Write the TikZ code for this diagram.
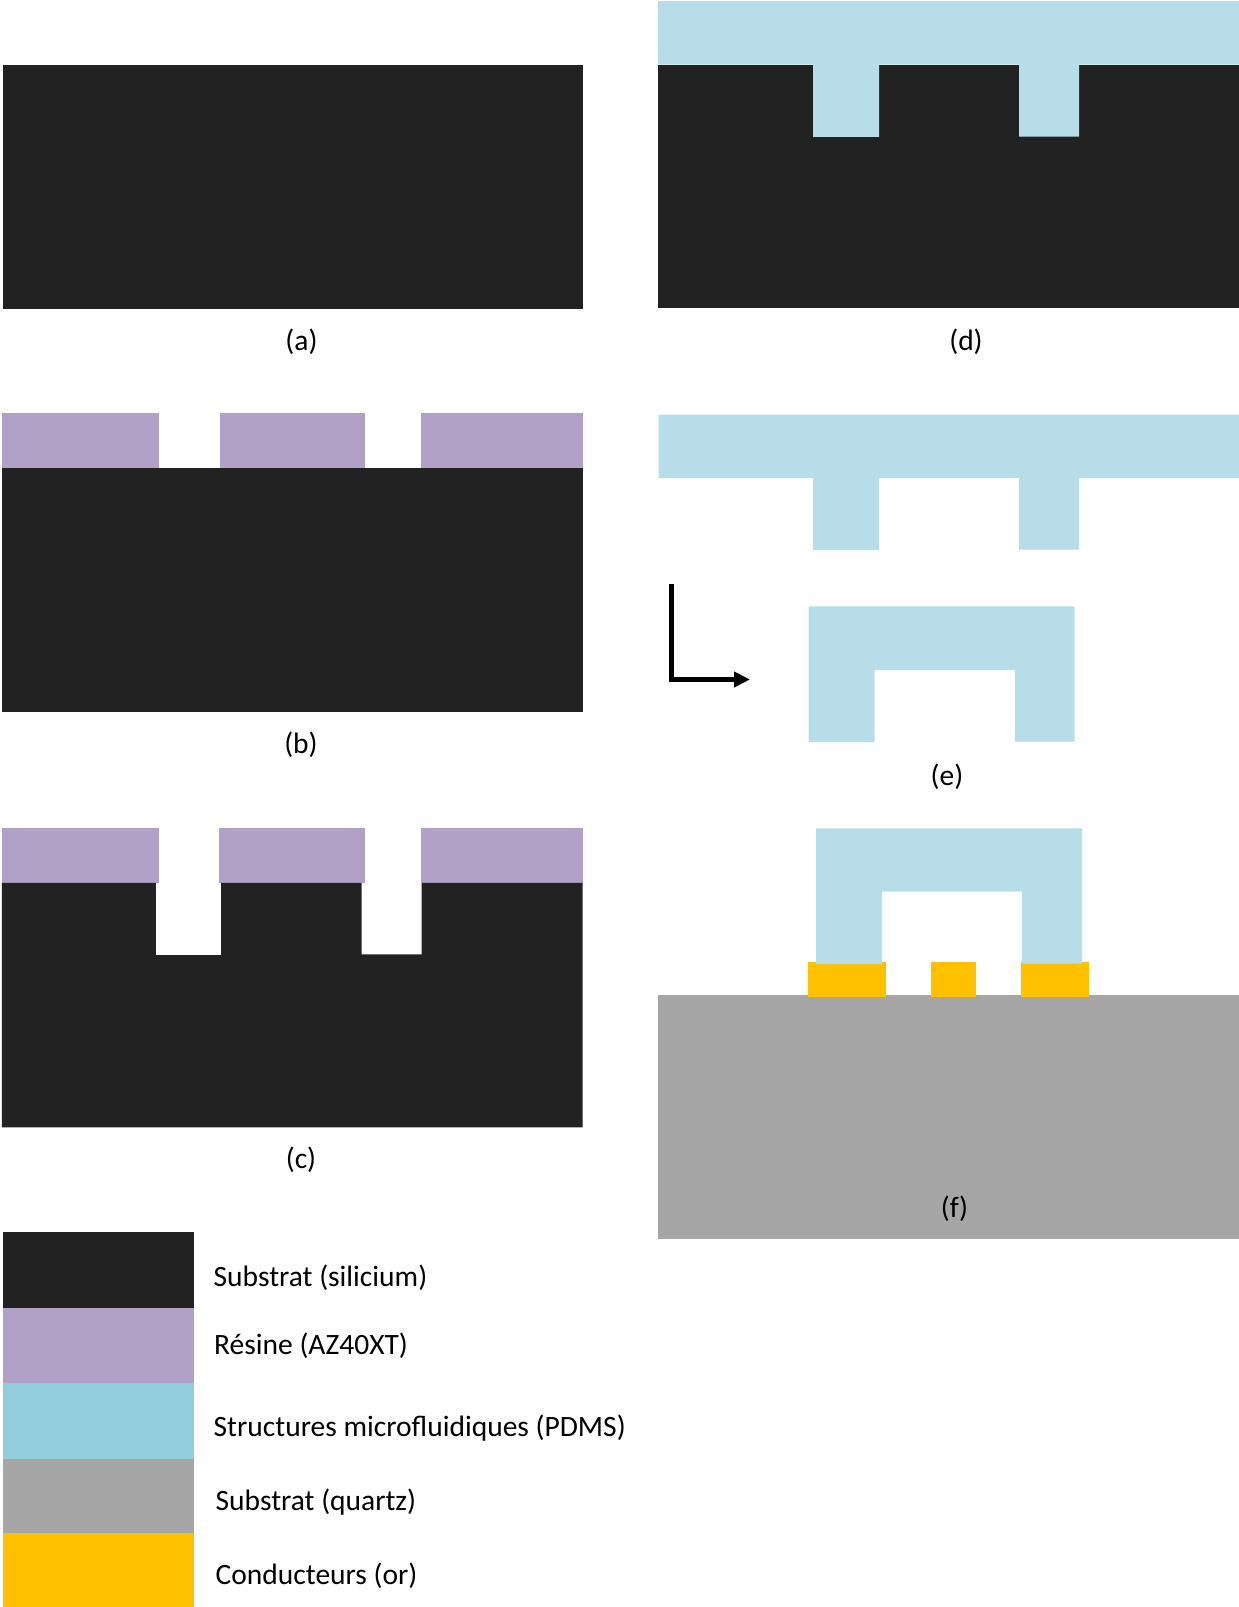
\documentclass[tikz,border=0pt]{standalone}
\usepackage{fontspec}
\setmainfont{Carlito}
\usetikzlibrary{arrows.meta}
\definecolor{si}{HTML}{222222}
\definecolor{res}{HTML}{B2A1C7}
\definecolor{pdms}{HTML}{B7DEE8}
\definecolor{pdmsl}{HTML}{92CDDC}
\definecolor{qz}{HTML}{A6A6A6}
\definecolor{au}{HTML}{FFC000}
\tikzset{
  x=1pt,y=-1pt,
  captionlabel/.style={anchor=base,inner sep=0pt,font=\fontsize{29.5}{33}\selectfont},
  legendlabel/.style={anchor=base west,inner sep=0pt,font=\fontsize{29.5}{33}\selectfont},
  sifill/.style={fill=si},
  resfill/.style={fill=res},
  pdmsfill/.style={fill=pdms},
  qzfill/.style={fill=qz},
  aufill/.style={fill=au},
}
\begin{document}
\begin{tikzpicture}
\useasboundingbox (0,0) rectangle (1239,1607);
% (a)
\fill[sifill] (3,64.8) rectangle (583,308.8);
\node[captionlabel] (la) at (301.5,350.5) {(a)};
% (b)
\fill[resfill] (2,413) rectangle (159,468);
\fill[resfill] (219.5,413) rectangle (365,468);
\fill[resfill] (421,413) rectangle (583,468);
\fill[sifill] (2,468) rectangle (583,712);
\node[captionlabel] (lb) at (301,753) {(b)};
% (c)
\fill[resfill] (1.8,828.3) rectangle (158.6,882.8);
\fill[resfill] (219.3,828.3) rectangle (364.6,882.8);
\fill[resfill] (420.7,828.3) rectangle (582.5,882.8);
\fill[sifill] (1.8,882.8) -- (155.8,882.8) -- (155.8,955) -- (221,955) -- (221,882.8) -- (361.5,882.8) -- (361.5,954.4) -- (421.5,954.4) -- (421.5,882.8) -- (582.5,882.8) -- (582.5,1127.3) -- (1.8,1127.3) -- cycle;
\node[captionlabel] (lc) at (301,1168) {(c)};
% (d)
\fill[sifill] (658,64.5) rectangle (1239,307.8);
\fill[pdmsfill] (658,1) -- (1239,1) -- (1239,64.5) -- (1079,64.5) -- (1079,136.5) -- (1019,136.5) -- (1019,64.5) -- (879,64.5) -- (879,136.8) -- (813,136.8) -- (813,64.5) -- (658,64.5) -- cycle;
\node[captionlabel] (ld) at (966,350.5) {(d)};
% (e)
\fill[pdmsfill] (658.5,414.5) -- (1239,414.5) -- (1239,478) -- (1079,478) -- (1079,549.7) -- (1019,549.7) -- (1019,478) -- (879,478) -- (879,550) -- (813,550) -- (813,478) -- (658.5,478) -- cycle;
\fill[pdmsfill] (808.5,606.3) -- (1074.5,606.3) -- (1074.5,741.7) -- (1015,741.7) -- (1015,670) -- (874.5,670) -- (874.5,742) -- (808.5,742) -- cycle;
\coordinate (arrowstart) at (671.5,583.5);
\coordinate (arrowcorner) at (671.5,679.5);
\coordinate (arrowend) at (750,679.5);
\draw[line width=5pt,-{Triangle[length=16pt,width=15pt]}] (arrowstart) -- (arrowcorner) -- (arrowend);
\node[captionlabel] (le) at (947,785.2) {(e)};
% (f)
\fill[qzfill] (658,994.5) rectangle (1239,1238.5);
\fill[aufill] (808,962.3) rectangle (886,996.5);
\fill[aufill] (931,962.3) rectangle (976,996.5);
\fill[aufill] (1020.5,962.3) rectangle (1088.5,996.5);
\fill[pdmsfill] (816,828.3) -- (1082,828.3) -- (1082,963.5) -- (1022,963.5) -- (1022,891.7) -- (882,891.7) -- (882,964) -- (816,964) -- cycle;
\node[captionlabel] (lf) at (954.5,1217.7) {(f)};
% legend
\fill[sifill] (3,1232) rectangle (194,1308);
\fill[resfill] (3,1308) rectangle (194,1383);
\fill[fill=pdmsl] (3,1383) rectangle (194,1459);
\fill[qzfill] (3,1459) rectangle (194,1533);
\fill[aufill] (3,1533) rectangle (194,1607);
\node[legendlabel] (t1) at (213.5,1286.7) {Substrat (silicium)};
\node[legendlabel] (t2) at (214,1354.5) {Résine (AZ40XT)};
\node[legendlabel] (t3) at (213.5,1436.5) {Structures microfluidiques (PDMS)};
\node[legendlabel] (t4) at (215.5,1510.5) {Substrat (quartz)};
\node[legendlabel] (t5) at (215.5,1584.2) {Conducteurs (or)};
\end{tikzpicture}
\end{document}
